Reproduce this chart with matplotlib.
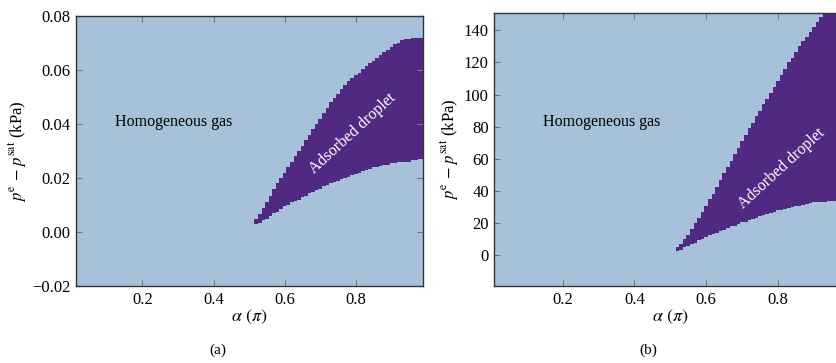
import numpy as np
import matplotlib.pyplot as plt

# contact angle alpha (in units of pi), one column per 0.01
alpha = np.round(np.arange(0.52, 0.995, 0.01), 2)

# panel (a): droplet region bounds, kPa
low_a = [0.003, 0.0035, 0.0045, 0.005, 0.006, 0.007, 0.0075, 0.0085, 0.0095, 0.010,
         0.011, 0.0115, 0.012, 0.013, 0.0135, 0.0145, 0.015, 0.0155, 0.016, 0.017,
         0.0175, 0.018, 0.0185, 0.019, 0.0195, 0.020, 0.0205, 0.021, 0.0215, 0.022,
         0.0225, 0.023, 0.0235, 0.024, 0.024, 0.0245, 0.025, 0.025, 0.0255, 0.0255,
         0.026, 0.026, 0.026, 0.026, 0.0265, 0.0265, 0.027, 0.027]
up_a = [0.005, 0.0065, 0.009, 0.011, 0.0135, 0.016, 0.018, 0.020, 0.022, 0.024,
        0.026, 0.028, 0.030, 0.032, 0.034, 0.036, 0.038, 0.040, 0.042, 0.044,
        0.046, 0.048, 0.0495, 0.051, 0.053, 0.0545, 0.056, 0.057, 0.058, 0.059,
        0.0605, 0.0615, 0.0625, 0.0635, 0.0645, 0.0655, 0.0665, 0.0675, 0.0685, 0.0695,
        0.070, 0.071, 0.0715, 0.0715, 0.072, 0.072, 0.072, 0.072]

# panel (b)
low_b = [3, 3.5, 5, 6, 7, 8, 9.5, 10.5, 11.5, 12.5,
         13.5, 14, 15, 16, 17, 18, 18.5, 19.5, 20.5, 21,
         22, 22.5, 23.5, 24.5, 25, 25.5, 26.5, 27, 28, 28.5,
         29, 29.5, 30, 30.5, 31, 31.5, 32, 32.5, 33, 33,
         33.5, 33.5, 34, 34, 34, 34, 34, 34]
up_b = [5, 7, 10, 13, 16.5, 20, 23.5, 27, 31, 35,
        38.5, 42.5, 47, 51, 55, 59, 63, 67, 71, 75,
        79, 82.5, 86.5, 90, 94, 97.5, 101, 105, 108.5, 112,
        116, 120, 123, 126.5, 130, 133, 136, 139, 142, 145,
        148, 152, 152, 152, 152, 152, 152, 152]

gas_col = "#a7c1da"
drop_col = "#502a82"

plt.rcParams["font.family"] = ["Liberation Serif", "DejaVu Serif"]
plt.rcParams["mathtext.fontset"] = "stix"

fig = plt.figure(figsize=(8.37, 3.63), dpi=100)
axa = fig.add_axes([0.0904, 0.2121, 0.4153, 0.7438])
axb = fig.add_axes([0.5906, 0.2121, 0.4205, 0.7534])

panels = [
    (axa, low_a, up_a, (0.012, 0.99), (-0.02, 0.08), (0.123, 0.0407), (0.791, 0.0363)),
    (axb, low_b, up_b, (0.01, 0.99), (-19, 151), (0.145, 82.7), (0.81, 54.1)),
]

# cell edges for the stair-step fill
edges = np.append(alpha - 0.005, alpha[-1] + 0.005)

for ax, lo, hi, xl, yl, gas_pos, drop_pos in panels:
    lo = np.append(lo, lo[-1])
    hi = np.append(hi, hi[-1])
    ax.set_facecolor(gas_col)
    ax.fill_between(edges, lo, hi, step="post", color=drop_col, linewidth=0)
    ax.set_xlim(*xl)
    ax.set_ylim(*yl)
    ax.set_xticks([0.2, 0.4, 0.6, 0.8])
    ax.tick_params(direction="in", top=True, right=True, length=4, width=0.8,
                   color="#777777", labelsize=12, pad=4)
    for s in ax.spines.values():
        s.set_color("#333333")
        s.set_linewidth(1.0)
    ax.set_xlabel(r"$\alpha\ (\pi)$", fontsize=13, labelpad=0)
    ax.set_ylabel(r"$p^{\mathrm{e}}\, -\, p^{\mathrm{sat}}$ (kPa)", fontsize=12, labelpad=2)
    ax.text(gas_pos[0], gas_pos[1], "Homogeneous gas", fontsize=11.5,
            ha="left", va="center", color="black")
    ax.text(drop_pos[0], drop_pos[1], "Adsorbed droplet", fontsize=11.5,
            ha="center", va="center", rotation=42.5, color="white",
            rotation_mode="anchor")

axa.set_yticks([-0.02, 0.0, 0.02, 0.04, 0.06, 0.08])
axa.set_yticklabels(["\u22120.02", "0.00", "0.02", "0.04", "0.06", "0.08"])
axb.set_yticks([0, 20, 40, 60, 80, 100, 120, 140])

fig.text(218 / 837, 1 - 350 / 363, "(a)", ha="center", va="center", fontsize=11)
fig.text(648 / 837, 1 - 350 / 363, "(b)", ha="center", va="center", fontsize=11)

fig.savefig("out.png", dpi=100)
